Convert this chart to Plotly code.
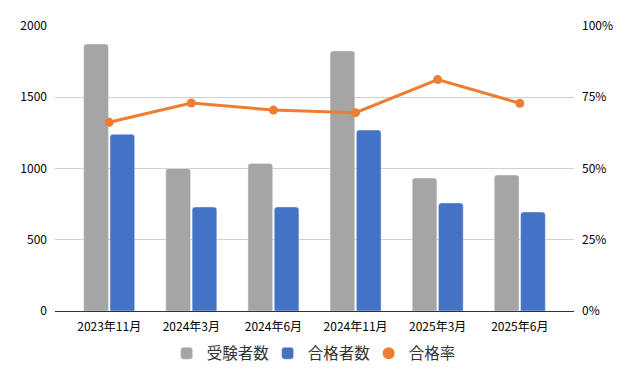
import plotly.graph_objects as go

categories = ["2023年11月", "2024年3月", "2024年6月", "2024年11月", "2025年3月", "2025年6月"]
examinees = [1874, 1000, 1035, 1825, 933, 954]
passers = [1240, 730, 730, 1270, 758, 695]
pass_rate = [0.662, 0.730, 0.705, 0.696, 0.812, 0.729]

left_ticks = [0, 500, 1000, 1500, 2000]
right_ticks = [0, 0.25, 0.5, 0.75, 1.0]
right_labels = ["0%", "25%", "50%", "75%", "100%"]

GRAY = "#A5A5A5"
BLUE = "#4472C4"
ORANGE = "#ED7D31"
FONT = "Noto Sans CJK JP, Noto Sans, sans-serif"

fig = go.Figure()
fig.add_trace(go.Bar(x=categories, y=examinees, name="受験者数",
                     marker=dict(color=GRAY, cornerradius=3), yaxis="y"))
fig.add_trace(go.Bar(x=categories, y=passers, name="合格者数",
                     marker=dict(color=BLUE, cornerradius=3), yaxis="y"))
fig.add_trace(go.Scatter(x=categories, y=pass_rate, name="合格率", mode="lines+markers",
                         line=dict(color=ORANGE, width=3), marker=dict(color=ORANGE, size=9),
                         yaxis="y2", showlegend=False))
fig.add_trace(go.Scatter(x=[categories[0]], y=[None], name="合格率", mode="markers",
                         marker=dict(color=ORANGE, size=12), yaxis="y2"))

fig.update_layout(
    width=631, height=381,
    margin=dict(l=47, r=65, t=18, b=78, autoexpand=False),
    paper_bgcolor="white", plot_bgcolor="white",
    font=dict(family=FONT, size=12, color="#000000"),
    barmode="group", bargap=0.36, bargroupgap=0.06,
    showlegend=True,
    legend=dict(orientation="h", x=0.507, xanchor="center", y=-0.09, yanchor="top",
                font=dict(size=15.5, color="#333333"), itemwidth=30, traceorder="normal",
                entrywidth=56, entrywidthmode="pixels"),
    xaxis=dict(range=[-0.66, 5.66], showgrid=False, showline=True, linecolor="#333333",
               linewidth=1, ticks="", ticklabelstandoff=5, automargin=False,
               tickfont=dict(size=12, color="#000000")),
    yaxis=dict(range=[0, 2000], tickvals=left_ticks, showgrid=True, gridcolor="#D0D0D0",
               gridwidth=1, zeroline=False, showline=False, ticklabelstandoff=7,
               automargin=False, tickfont=dict(size=12, color="#000000")),
    yaxis2=dict(range=[0, 1], overlaying="y", side="right", tickvals=right_ticks,
                ticktext=right_labels, showgrid=False, zeroline=False, showline=False,
                ticklabelstandoff=7, automargin=False,
                tickfont=dict(size=12, color="#000000")),
)

fig.write_html("out.html")
